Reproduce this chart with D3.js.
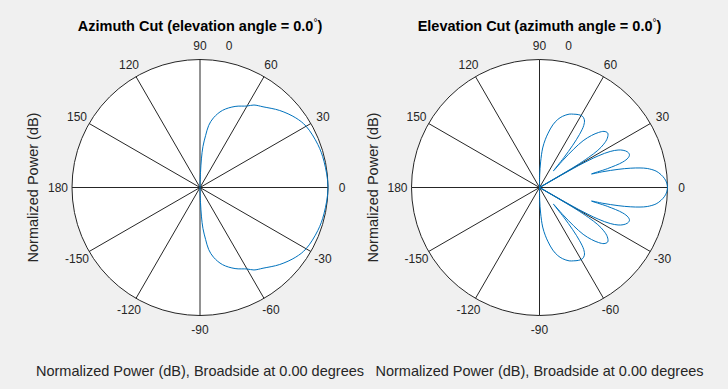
<!DOCTYPE html>
<html>
<head>
<meta charset="utf-8">
<script src="https://cdnjs.cloudflare.com/ajax/libs/d3/7.8.5/d3.min.js"></script>
<style>
  body { margin: 0; background: #f0f0f0; }
  svg { display: block; font-family: "Liberation Sans", Arial, Helvetica, sans-serif; }
  .spoke { stroke: #262626; stroke-width: 1; }
  .rim { fill: #fff; stroke: #262626; stroke-width: 1; }
  .pattern { fill: none; stroke: #0072bd; stroke-width: 1; }
  .tick-label { font-size: 12px; fill: #262626; }
</style>
</head>
<body>
<svg width="728" height="389"></svg>
<script>
// angle ticks on the rim (degrees)
const angleTicks = [0, 30, 60, 90, 120, 150, 180, -150, -120, -90, -60, -30];

// azimuth cut, elevation 0 (angle deg, normalized power dB)
const azAngles = [-90, -88.1, -87.1, -85.9, -83.8, -82, -79, -73.7, -66.6, -60, -56.8, -52, -44, -36, -30, -20, -12,
  0, 12, 20, 30, 36, 44, 52, 56.8, 60, 66.6, 73.7, 79, 82, 83.8, 85.9, 87.1, 88.1, 90];
const azPower = [-60, -44.1, -38.5, -34, -29.5, -25.5, -22.25, -18.6, -15.5, -13.25, -11.5, -10, -6.7, -3.75, -2.15, -1, -0.5,
  0, -0.5, -1, -2.15, -3.75, -6.7, -10, -11.5, -13.25, -15.5, -18.6, -22.25, -25.5, -29.5, -34, -38.5, -44.1, -60];

// elevation cut, azimuth 0
const elAngles = [-90, -89, -87.5, -85.4, -83, -81, -78, -75, -72, -68, -65, -62, -59, -56.5, -54.5,
  -53, -51.8, -50.8, -50, -49.3, -48.3, -47, -45, -43, -41, -38.6, -36, -34, -32.5, -31.5, -30.7,
  -30, -29.3, -28.3, -27, -25.5, -24, -22, -20, -18.5, -17, -15.5, -14.6, -14, -13, -12, -11, -10,
  -8, -6, -4, -2,
  0, 2, 4, 6, 8, 10, 11, 12, 13, 14, 14.6, 15.5, 17, 18.5, 20, 22, 24, 25.5, 27, 28.3, 29.3,
  30, 30.7, 31.5, 32.5, 34, 36, 38.6, 41, 43, 45, 47, 48.3, 49.3, 50, 50.8, 51.8, 53, 54.5, 56.5,
  59, 62, 65, 68, 72, 75, 78, 81, 83, 85.4, 87.5, 89, 90];
const elPower = [-60, -45, -40, -34.5, -31, -28.5, -25, -22.5, -20.75, -19.1, -18.4, -17.75, -17.5, -18.25, -20.25,
  -24, -29, -35, -41.5, -36, -30, -25, -21.25, -18.5, -16.6, -15.9, -17.25, -19.75, -23, -27.5, -33.5,
  -60, -32.5, -24, -19, -16, -14.25, -12.9, -12.6, -13.5, -16, -22.5, -29, -24.5, -18.5, -13.75, -10, -7.25,
  -4, -2.25, -1, -0.25,
  0, -0.25, -1, -2.25, -4, -7.25, -10, -13.75, -18.5, -24.5, -29, -22.5, -16, -13.5, -12.6, -12.9, -14.25, -16, -19, -24, -32.5,
  -60, -33.5, -27.5, -23, -19.75, -17.25, -15.9, -16.6, -18.5, -21.25, -25, -30, -36, -41.5, -35, -29, -24, -20.25, -18.25,
  -17.5, -17.75, -18.4, -19.1, -20.75, -22.5, -25, -28.5, -31, -34.5, -40, -45, -60];

const titles = ['Azimuth Cut (elevation angle = 0.0', 'Elevation Cut (azimuth angle = 0.0'];
const xLabel = 'Normalized Power (dB), Broadside at 0.00 degrees';
const yLabel = 'Normalized Power (dB)';

const svg = d3.select('svg');
svg.append('rect').attr('width', 728).attr('height', 389).attr('fill', '#f0f0f0');

const radius = 128,
    cy = 187.5;

const r = d3.scaleLinear()
  .domain([-50, 0])
  .range([0, radius])
  .clamp(true);

const rad = (deg) => deg * Math.PI / 180;

const drawPolar = (cx, title, angles, power) => {
  const g = svg.append('g')
    .attr('transform', 'translate(' + cx + ',' + cy + ')');

  g.append('circle')
    .attr('class', 'rim')
    .attr('r', radius);

  g.selectAll('.spoke')
    .data(angleTicks)
    .enter()
    .append('line')
    .attr('class', 'spoke')
    .attr('x1', 0).attr('y1', 0)
    .attr('x2', (d) => radius * Math.cos(rad(d)))
    .attr('y2', (d) => -radius * Math.sin(rad(d)));

  g.selectAll('.tick-label')
    .data(angleTicks)
    .enter()
    .append('text')
    .attr('class', 'tick-label')
    .attr('x', (d) => 142 * Math.cos(rad(d)))
    .attr('y', (d) => -142 * Math.sin(rad(d)) + 4)
    .attr('text-anchor', 'middle')
    .text((d) => d);

  // radial tick (outer ring = 0 dB)
  g.append('text')
    .attr('class', 'tick-label')
    .attr('x', 29)
    .attr('y', -142 + 4)
    .attr('text-anchor', 'middle')
    .text('0');

  const pts = angles.map((a, i) => ({a: a, p: power[i]}));

  const line = d3.lineRadial()
    .angle((d) => rad(90 - d.a))
    .radius((d) => r(d.p))
    .curve(d3.curveCatmullRom.alpha(0.5));

  g.append('path')
    .datum(pts)
    .attr('class', 'pattern')
    .attr('d', line);

  const t = svg.append('text')
    .attr('x', cx)
    .attr('y', 31)
    .attr('text-anchor', 'middle')
    .attr('font-size', '14.5px')
    .attr('font-weight', 'bold')
    .attr('fill', '#000');
  t.append('tspan').text(title);
  t.append('tspan')
    .attr('font-size', '10px')
    .attr('font-weight', 'normal')
    .attr('dy', -5)
    .text('°');
  t.append('tspan')
    .attr('dy', 5)
    .text(')');

  svg.append('text')
    .attr('transform', 'translate(' + (cx - 162) + ',' + cy + ') rotate(-90)')
    .attr('text-anchor', 'middle')
    .attr('font-size', '14.5px')
    .attr('fill', '#262626')
    .text(yLabel);

  svg.append('text')
    .attr('x', cx)
    .attr('y', 376)
    .attr('text-anchor', 'middle')
    .attr('font-size', '14.5px')
    .attr('fill', '#262626')
    .text(xLabel);
};

drawPolar(200, titles[0], azAngles, azPower);
drawPolar(539.5, titles[1], elAngles, elPower);
</script>
</body>
</html>
